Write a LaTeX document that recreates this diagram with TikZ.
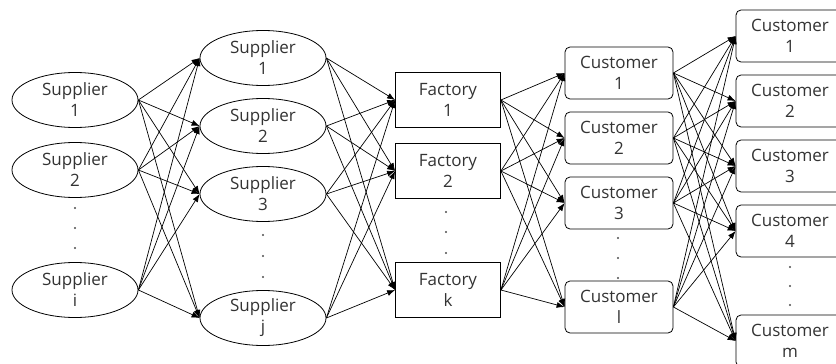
\documentclass[tikz,border=0pt]{standalone}
\usepackage{fontspec}
\setmainfont{Open Sans}
\usetikzlibrary{shapes.geometric,arrows.meta}
\tikzset{
  lbl/.style={font=\fontsize{17}{21}\selectfont, text=black!80, align=center, inner sep=0pt},
  supp/.style={lbl, ellipse, draw, line width=0.8pt, minimum width=126pt, minimum height=55pt},
  fact/.style={lbl, rectangle, draw, line width=0.8pt, minimum width=105pt, minimum height=55pt},
  cust/.style={lbl, rectangle, rounded corners=5pt, draw, line width=0.8pt, minimum width=108pt, minimum height=52pt},
  flow/.style={-{Latex[length=8pt,width=6pt]}, line width=0.7pt},
  vdot/.style={circle, fill=black!70, inner sep=0pt, minimum size=2.2pt}
}
\begin{document}
\begin{tikzpicture}[x=1pt,y=-1pt]
\useasboundingbox (0,0) rectangle (836,364);
\clip (0,0) rectangle (836,364);

% first tier of suppliers
\node[supp] (a1) at (75,100) {Supplier\\1};
\node[supp] (a2) at (75,170) {Supplier\\2};
\node[supp] (a3) at (75,290) {Supplier\\i};
\foreach \y in {208,228,248} \node[vdot] at (75,\y) {};

% second tier of suppliers
\node[supp] (b1) at (263,58) {Supplier\\1};
\node[supp] (b2) at (263,126) {Supplier\\2};
\node[supp] (b3) at (263,194) {Supplier\\3};
\node[supp] (b4) at (263,318) {Supplier\\j};
\foreach \y in {235,256,277} \node[vdot] at (263,\y) {};

% factories
\node[fact] (f1) at (448,100) {Factory\\1};
\node[fact] (f2) at (448,171) {Factory\\2};
\node[fact] (f3) at (448,290) {Factory\\k};
\foreach \y in {212,232,253} \node[vdot] at (446,\y) {};

% first tier of customers
\node[cust] (c1) at (619,73) {Customer\\1};
\node[cust] (c2) at (619,138) {Customer\\2};
\node[cust] (c3) at (619,203) {Customer\\3};
\node[cust] (c4) at (619,307) {Customer\\l};
\foreach \y in {238,258,278} \node[vdot] at (618,\y) {};

% final customers
\node[cust] (d1) at (790,36) {Customer\\1};
\node[cust] (d2) at (790,101) {Customer\\2};
\node[cust] (d3) at (790,166) {Customer\\3};
\node[cust] (d4) at (790,231) {Customer\\4};
\node[cust] (d5) at (790,341) {Customer\\m};
\foreach \y in {267,286,305} \node[vdot] at (790,\y) {};

% flows between tiers
\foreach \s in {a1,a2,a3} \foreach \t in {b1,b2,b3,b4} \draw[flow] (\s.east) -- (\t.west);
\foreach \s in {b1,b2,b3,b4} \foreach \t in {f1,f2,f3} \draw[flow] (\s.east) -- (\t.west);
\foreach \s in {f1,f2,f3} \foreach \t in {c1,c2,c3,c4} \draw[flow] (\s.east) -- (\t.west);
\foreach \s in {c1,c2,c3,c4} \foreach \t in {d1,d2,d3,d4,d5} \draw[flow] (\s.east) -- (\t.west);
\end{tikzpicture}
\end{document}
